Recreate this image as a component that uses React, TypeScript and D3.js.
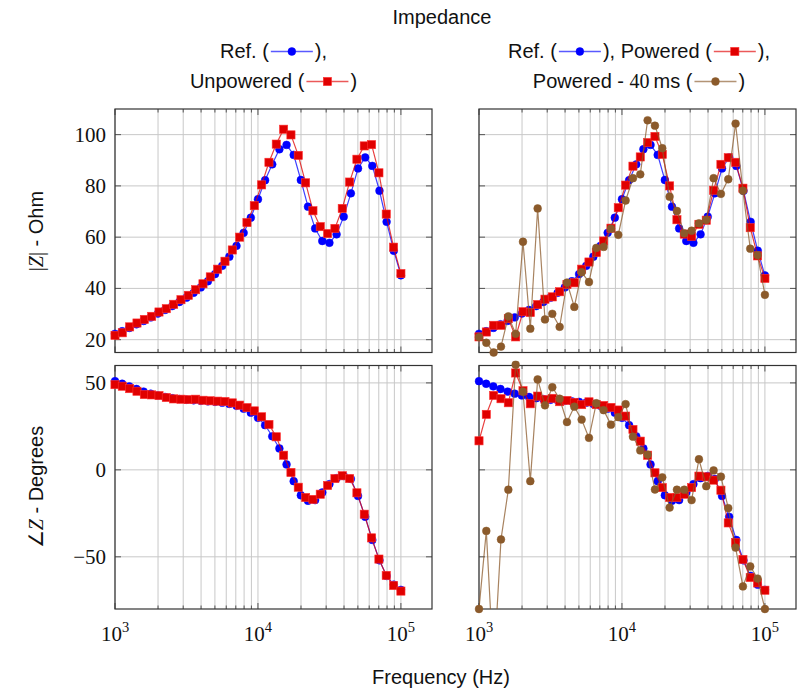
import React, { useEffect, useRef } from 'react';
import * as d3 from 'd3';

// frequency grids (Hz): reference sweep has 41 points, measured sweeps 40
const freqRef = [
  1000, 1122, 1259, 1413, 1585, 1778, 1995, 2239, 2512, 2818, 3162, 3548, 3981, 4467,
  5012, 5623, 6310, 7079, 7943, 8913, 10000, 11220, 12589, 14125, 15849, 17783, 19953,
  22387, 25119, 28184, 31623, 35481, 39811, 44668, 50119, 56234, 63096, 70795, 79433,
  89125, 100000,
];
const freqMeas = [
  1000, 1125, 1266, 1425, 1604, 1805, 2031, 2285, 2572, 2894, 3257, 3665, 4125, 4642,
  5223, 5878, 6615, 7444, 8377, 9427, 10608, 11938, 13434, 15118, 17013, 19146, 21544,
  24245, 27283, 30703, 34551, 38882, 43755, 49239, 55410, 62355, 70170, 78965, 88862,
  100000,
];

// |Z| in Ohm
const magRef = [
  22.3, 23.3, 24.6, 26.0, 27.3, 28.7, 30.2, 31.6, 33.1, 34.7, 36.4, 38.3, 40.4, 42.8,
  45.6, 48.8, 52.4, 56.6, 61.7, 67.6, 74.8, 82.2, 88.4, 94.3, 96.0, 92.1, 82.3, 71.9,
  63.4, 58.5, 57.8, 61.1, 68.0, 77.1, 86.8, 91.1, 87.8, 78.1, 66.0, 54.7, 45.1,
];
const magUnpowered = [
  21.7, 22.7, 25.0, 26.5, 27.9, 29.1, 30.8, 32.1, 33.8, 35.6, 37.3, 39.5, 41.8, 44.5,
  47.5, 50.6, 55.0, 60.0, 65.7, 72.3, 80.4, 89.2, 96.3, 102.1, 99.9, 91.9, 81.2, 70.3,
  64.1, 61.4, 63.4, 71.2, 81.5, 90.4, 95.6, 96.1, 85.1, 69.0, 56.1, 45.8,
];
const magPowered = [
  21.1, 23.0, 25.6, 25.6, 28.2, 21.1, 30.9, 30.6, 33.7, 35.8, 36.7, 38.7, 41.5, 42.2,
  47.5, 50.3, 54.0, 58.5, 63.5, 71.5, 80.3, 87.7, 91.3, 96.9, 99.3, 92.3, 80.0, 66.8,
  61.2, 60.3, 65.0, 66.6, 78.3, 88.4, 91.0, 89.2, 79.1, 63.7, 52.7, 43.9,
];
const magPowered40 = [
  21.0, 18.8, 15.0, 17.3, 29.1, 22.3, 58.2, 24.3, 71.2, 27.9, 30.1, 25.0, 42.3, 32.8,
  46.3, 42.5, 55.8, 56.2, 63.3, 60.9, 74.3, 83.0, 84.5, 105.6, 103.5, 94.7, 75.8, 70.2,
  61.5, 62.5, 65.4, 66.7, 83.0, 76.9, 82.6, 104.3, 78.1, 55.5, 53.0, 37.5,
];

// phase in degrees
const phaseRef = [
  51.0, 49.5, 48.0, 46.5, 45.0, 43.8, 42.8, 41.9, 41.2, 40.7, 40.3, 40.0, 39.7, 39.4,
  39.1, 38.6, 37.9, 36.8, 35.2, 32.9, 29.9, 25.7, 19.3, 12.3, 3.1, -6.5, -14.6, -17.8,
  -17.4, -13.0, -8.2, -4.8, -3.5, -5.2, -15.0, -27.0, -40.3, -52.0, -61.0, -66.0, -69.0,
];
const phaseUnpowered = [
  49.0, 48.1, 46.7, 45.2, 43.3, 43.1, 42.7, 41.6, 40.8, 40.6, 40.4, 40.6, 40.0, 39.7,
  39.5, 39.3, 38.5, 37.2, 35.8, 33.9, 30.5, 26.1, 19.0, 8.4, -1.5, -10.0, -15.9, -17.0,
  -14.0, -9.0, -5.0, -3.4, -5.0, -13.2, -25.5, -39.1, -51.3, -60.7, -66.5, -69.7,
];
const phasePowered = [
  16.7, 31.9, 42.8, 40.9, 38.6, 55.7, 45.5, 38.0, 42.4, 40.4, 41.1, 39.2, 39.9, 38.8,
  37.5, 39.1, 37.5, 37.0, 35.9, 34.4, 30.9, 23.2, 16.5, 8.4, -1.7, -10.2, -15.9, -15.9,
  -14.0, -10.2, -3.6, -4.0, -5.9, -11.7, -30.5, -41.8, -51.5, -61.9, -65.0, -69.2,
];
const phasePowered40 = [
  -80, -35.1, -115, -40.0, -11.4, 60.5, 44.9, -6.5, 52.0, 37.1, 47.5, 40.9, 27.5, 36.3,
  28.9, 18.4, 38.3, 34.3, 26.0, 30.3, 37.8, 19.1, 11.2, 8.8, -11.3, -4.3, -21.7, -11.4,
  -11.4, -17.4, 6.1, -9.4, -0.3, -3.9, -22.0, -44.7, -67.0, -55.5, -62.5, -80,
];

// axes
const freqDomain = [1000, 165000];
const magDomain = [15, 110];
const phaseDomain = [-80, 60];
const magTicks = [20, 40, 60, 80, 100];
const phaseTicks = [-50, 0, 50];
const decadeTicks = [1e3, 1e4, 1e5];

const SANS = '"Liberation Sans", Arial, sans-serif';
const SERIF = '"Liberation Serif", "Times New Roman", serif';
const BLUE = '#0000ff';
const RED = '#e00000';
const BROWN = '#8b5a2b';

type Series = { freq: number[]; vals: number[]; color: string; shape: 'circle' | 'square' };

const drawMarker = (g: any, shape: string, color: string, cx: number, cy: number) => {
  if (shape === 'square') {
    g.append('rect').attr('x', cx - 4.1).attr('y', cy - 4.1).attr('width', 8.2).attr('height', 8.2)
      .attr('fill', color).attr('stroke', '#ff3030').attr('stroke-width', 0.6);
  } else {
    g.append('circle').attr('cx', cx).attr('cy', cy).attr('r', 3.9).attr('fill', color)
      .attr('stroke', color).attr('stroke-width', 0.5);
  }
};

const App = () => {
  const ref = useRef<SVGSVGElement>(null);

  useEffect(() => {
    const svg = d3.select(ref.current);
    svg.selectAll('*').remove();
    const defs = svg.append('defs');

    const drawPanel = (id: string, left: number, top: number, yDomain: number[], yTicks: number[],
      showY: boolean, showX: boolean, series: Series[]) => {
      const width = 317;
      const height = 243.5;
      const x = d3.scaleLog().domain(freqDomain).range([left, left + width]);
      const y = d3.scaleLinear().domain(yDomain).range([top + height, top]);
      const g = svg.append('g');

      defs.append('clipPath').attr('id', `clip-${id}`).append('rect')
        .attr('x', left).attr('y', top).attr('width', width).attr('height', height);
      defs.append('clipPath').attr('id', `clipm-${id}`).append('rect')
        .attr('x', left - 5).attr('y', top - 5).attr('width', width + 10).attr('height', height + 10);

      const xt = x.ticks();
      // grid
      g.selectAll('line.vg').data(xt).join('line').attr('class', 'vg')
        .attr('x1', d => x(d)).attr('x2', d => x(d)).attr('y1', top).attr('y2', top + height)
        .attr('stroke', '#c8c8c8').attr('stroke-width', 1);
      g.selectAll('line.hg').data(yTicks).join('line').attr('class', 'hg')
        .attr('x1', left).attr('x2', left + width).attr('y1', d => y(d)).attr('y2', d => y(d))
        .attr('stroke', '#c8c8c8').attr('stroke-width', 1);

      // ticks (inside, all four sides)
      const isMajor = (d: number) => decadeTicks.includes(d);
      g.selectAll('line.bt').data(xt).join('line').attr('class', 'bt')
        .attr('x1', d => x(d)).attr('x2', d => x(d))
        .attr('y1', top + height).attr('y2', d => top + height - (isMajor(d) ? 6 : 3.5))
        .attr('stroke', '#555').attr('stroke-width', 1);
      g.selectAll('line.tt').data(xt).join('line').attr('class', 'tt')
        .attr('x1', d => x(d)).attr('x2', d => x(d))
        .attr('y1', top).attr('y2', d => top + (isMajor(d) ? 6 : 3.5))
        .attr('stroke', '#555').attr('stroke-width', 1);
      g.selectAll('line.lt').data(yTicks).join('line').attr('class', 'lt')
        .attr('x1', left).attr('x2', left + 6).attr('y1', d => y(d)).attr('y2', d => y(d))
        .attr('stroke', '#555').attr('stroke-width', 1);
      g.selectAll('line.rt').data(yTicks).join('line').attr('class', 'rt')
        .attr('x1', left + width - 6).attr('x2', left + width).attr('y1', d => y(d)).attr('y2', d => y(d))
        .attr('stroke', '#555').attr('stroke-width', 1);

      g.append('rect').attr('x', left).attr('y', top).attr('width', width).attr('height', height)
        .attr('fill', 'none').attr('stroke', '#333').attr('stroke-width', 1.2);

      if (showY) {
        g.selectAll('text.yl').data(yTicks).join('text').attr('class', 'yl')
          .attr('x', left - 9).attr('y', d => y(d) + 7).attr('text-anchor', 'end')
          .style('font-family', SERIF).style('font-size', '21px').attr('fill', '#111')
          .text(d => (d < 0 ? '\u2212' + Math.abs(d) : String(d)));
      }
      if (showX) {
        decadeTicks.forEach(d => {
          const t = g.append('text').attr('x', x(d)).attr('y', top + height + 32)
            .attr('text-anchor', 'middle').style('font-family', SERIF).style('font-size', '21px')
            .attr('fill', '#111');
          t.append('tspan').text('10');
          t.append('tspan').attr('dy', -9).style('font-size', '14.5px').text(String(Math.round(Math.log10(d))));
        });
      }

      const line = d3.line<[number, number]>().x(d => x(d[0])).y(d => y(d[1]));
      series.forEach(s => {
        const pts: [number, number][] = s.freq.map((f, i) => [f, s.vals[i]]);
        g.append('path').datum(pts).attr('d', line).attr('clip-path', `url(#clip-${id})`)
          .attr('fill', 'none').attr('stroke', s.color).attr('stroke-opacity', 0.75)
          .attr('stroke-width', 1.2);
        const mg = g.append('g').attr('clip-path', `url(#clipm-${id})`);
        pts.forEach(p => drawMarker(mg, s.shape, s.color, x(p[0]), y(p[1])));
      });
    };

    drawPanel('tl', 115, 109, magDomain, magTicks, true, false, [
      { freq: freqRef, vals: magRef, color: BLUE, shape: 'circle' },
      { freq: freqMeas, vals: magUnpowered, color: RED, shape: 'square' },
    ]);
    drawPanel('tr', 479, 109, magDomain, magTicks, false, false, [
      { freq: freqRef, vals: magRef, color: BLUE, shape: 'circle' },
      { freq: freqMeas, vals: magPowered, color: RED, shape: 'square' },
      { freq: freqMeas, vals: magPowered40, color: BROWN, shape: 'circle' },
    ]);
    drawPanel('bl', 115, 365.5, phaseDomain, phaseTicks, true, true, [
      { freq: freqRef, vals: phaseRef, color: BLUE, shape: 'circle' },
      { freq: freqMeas, vals: phaseUnpowered, color: RED, shape: 'square' },
    ]);
    drawPanel('br', 479, 365.5, phaseDomain, phaseTicks, false, true, [
      { freq: freqRef, vals: phaseRef, color: BLUE, shape: 'circle' },
      { freq: freqMeas, vals: phasePowered, color: RED, shape: 'square' },
      { freq: freqMeas, vals: phasePowered40, color: BROWN, shape: 'circle' },
    ]);

    // titles and axis labels
    svg.append('text').attr('x', 442).attr('y', 24).attr('text-anchor', 'middle')
      .style('font-family', SANS).style('font-size', '20px').attr('fill', '#111').text('Impedance');
    svg.append('text').attr('x', 441).attr('y', 684).attr('text-anchor', 'middle')
      .style('font-family', SANS).style('font-size', '20px').attr('fill', '#111').text('Frequency (Hz)');

    const yl1 = svg.append('text').attr('transform', 'translate(43,231) rotate(-90)')
      .attr('text-anchor', 'middle').style('font-size', '20px').attr('fill', '#111');
    yl1.append('tspan').style('font-family', SERIF).text('|');
    yl1.append('tspan').style('font-family', SERIF).style('font-style', 'italic').text('Z');
    yl1.append('tspan').style('font-family', SERIF).text('|');
    yl1.append('tspan').style('font-family', SANS).text(' - Ohm');

    const yl2 = svg.append('text').attr('transform', 'translate(43,487) rotate(-90)')
      .attr('text-anchor', 'middle').style('font-size', '20px').attr('fill', '#111');
    yl2.append('tspan').style('font-family', SERIF).text('\u2220');
    yl2.append('tspan').style('font-family', SERIF).style('font-style', 'italic').text('Z');
    yl2.append('tspan').style('font-family', SANS).text(' - Degrees');

    // legends written as text with inline line samples
    type Piece = { t?: string; serif?: boolean; sym?: Series['shape']; color?: string };
    const legendLine = (cx: number, baseline: number, pieces: Piece[]) => {
      const g = svg.append('g');
      let pos = 0;
      pieces.forEach(p => {
        if (p.sym) {
          const mid = baseline - 6.5;
          g.append('line').attr('x1', pos + 2).attr('x2', pos + 44).attr('y1', mid).attr('y2', mid)
            .attr('stroke', p.color!).attr('stroke-opacity', 0.65).attr('stroke-width', 1.3);
          drawMarker(g, p.sym, p.color!, pos + 23, mid);
          pos += 46;
        } else {
          const t = g.append('text').attr('x', pos).attr('y', baseline)
            .style('font-family', p.serif ? SERIF : SANS).style('font-size', '20px')
            .attr('fill', '#111').attr('xml:space', 'preserve').style('white-space', 'pre').text(p.t!);
          pos += (t.node() as SVGTextElement).getComputedTextLength();
        }
      });
      g.attr('transform', `translate(${cx - pos / 2},0)`);
    };

    legendLine(273.5, 58, [{ t: 'Ref. (' }, { sym: 'circle', color: BLUE }, { t: '),' }]);
    legendLine(273.5, 88, [{ t: 'Unpowered (' }, { sym: 'square', color: RED }, { t: ')' }]);
    legendLine(639, 58, [
      { t: 'Ref. (' }, { sym: 'circle', color: BLUE }, { t: '), Powered (' },
      { sym: 'square', color: RED }, { t: '),' },
    ]);
    legendLine(639, 88, [
      { t: 'Powered - ' }, { t: '40', serif: true }, { t: '\u2009ms (' },
      { sym: 'circle', color: BROWN }, { t: ')' },
    ]);
  }, []);

  return (
    <svg ref={ref} width={800} height={691}
      style={{ position: 'absolute', left: 0, top: 0, background: '#fff' }} />
  );
};

export default App;
